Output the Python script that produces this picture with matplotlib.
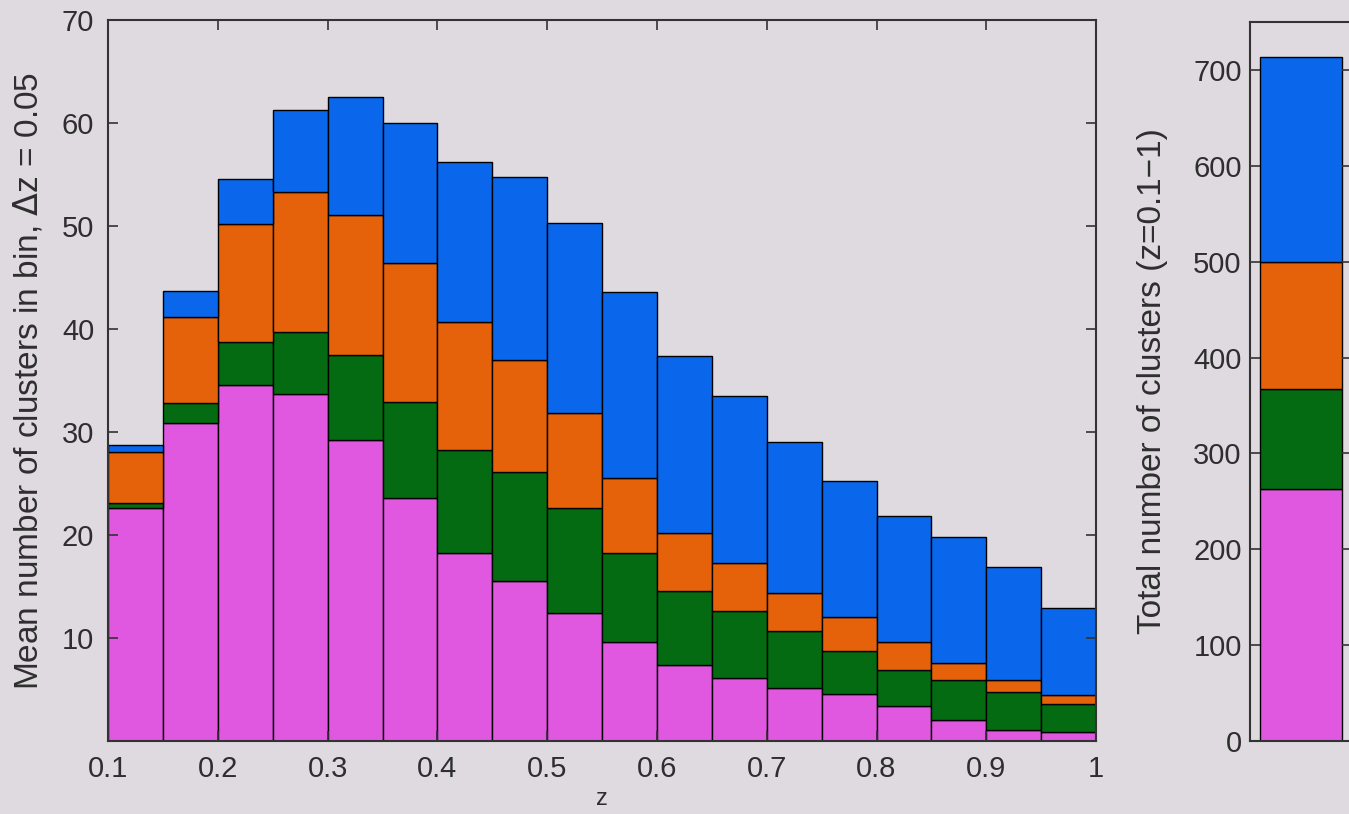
import numpy as np
import matplotlib.pyplot as plt

plt.rcParams['font.family'] = ['Liberation Sans', 'DejaVu Sans']

# redshift bins, dz = 0.05
z_edges = np.arange(0.1, 1.0, 0.05)
dz = 0.05

# mean number of clusters per bin, one array per class (bottom to top)
n_magenta = [22.6, 30.9, 34.6, 33.7, 29.2, 23.6, 18.3, 15.5, 12.4,
             9.6, 7.4, 6.1, 5.1, 4.6, 3.4, 2.0, 1.1, 0.9]
n_green = [0.5, 1.9, 4.1, 6.0, 8.3, 9.3, 10.0, 10.6, 10.2,
           8.7, 7.2, 6.5, 5.6, 4.1, 3.5, 3.9, 3.7, 2.7]
n_orange = [5.0, 8.4, 11.5, 13.6, 13.6, 13.5, 12.4, 10.9, 9.2,
            7.2, 5.6, 4.7, 3.7, 3.3, 2.7, 1.7, 1.1, 0.9]
n_blue = [0.6, 2.5, 4.4, 8.0, 11.4, 13.6, 15.5, 17.8, 18.5,
          18.1, 17.2, 16.2, 14.6, 13.2, 12.2, 12.2, 11.0, 8.4]

# totals over z = 0.1 - 1
total_magenta = 263
total_green = 104
total_orange = 133
total_blue = 214

xticks = [0.1, 0.2, 0.3, 0.4, 0.5, 0.6, 0.7, 0.8, 0.9, 1.0]
xticklabels = ['0.1', '0.2', '0.3', '0.4', '0.5', '0.6', '0.7', '0.8', '0.9', '1']

colors = ['#e058e0', '#046b12', '#e5620a', '#0a66ea']
bg = '#dedadf'
txt = '#2e2e2e'

fig = plt.figure(figsize=(13.49, 8.14), dpi=100, facecolor=bg)

ax = fig.add_axes([0.0801, 0.0897, 0.7324, 0.8857])
ax.set_facecolor(bg)
bottom = np.zeros(len(z_edges))
for vals, c in zip([n_magenta, n_green, n_orange, n_blue], colors):
    ax.bar(z_edges, vals, width=dz, bottom=bottom, align='edge',
           color=c, edgecolor='black', linewidth=1.0)
    bottom += np.array(vals)

ax.set_xlim(0.1, 1.0)
ax.set_ylim(0, 70)
ax.set_xticks(xticks)
ax.set_xticklabels(xticklabels)
ax.set_yticks([10, 20, 30, 40, 50, 60, 70])
ax.tick_params(direction='in', top=True, right=True, length=7, width=1.2,
               labelsize=21, colors='#333333', labelcolor=txt, pad=10)
ax.set_xlabel('z', fontsize=17, color=txt, labelpad=4)
ax.set_ylabel('Mean number of clusters in bin, $\\Delta$z = 0.05',
              fontsize=24, color=txt)
ax.yaxis.set_label_coords(-0.064, 0.5)
for s in ax.spines.values():
    s.set_linewidth(1.5)
    s.set_color('#333333')

# totals panel
ax2 = fig.add_axes([0.9266, 0.0897, 0.0756, 0.8832])
ax2.set_facecolor(bg)
b = 0
for v, c in zip([total_magenta, total_green, total_orange, total_blue], colors):
    ax2.bar(1, v, width=0.8, bottom=b, color=c, edgecolor='black', linewidth=1.0)
    b += v
ax2.set_xlim(0.5, 1.5)
ax2.set_ylim(0, 750)
ax2.set_xticks([])
ax2.set_yticks(range(0, 701, 100))
ax2.tick_params(direction='in', right=True, length=7, width=1.2,
                labelsize=21, colors='#333333', labelcolor=txt, pad=6)
ax2.set_ylabel('Total number of clusters (z=0.1\u22121)', fontsize=24, color=txt)
ax2.yaxis.set_label_coords(-0.8, 0.5)
for s in ax2.spines.values():
    s.set_linewidth(1.5)
    s.set_color('#333333')

fig.savefig('out.png', dpi=100, facecolor=bg)
